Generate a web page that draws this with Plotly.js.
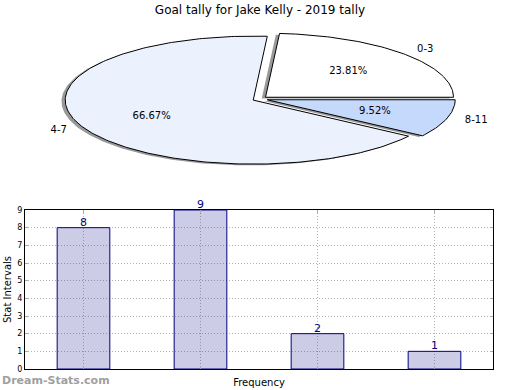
<!DOCTYPE html>
<html>
<head>
<meta charset="utf-8">
<script src="https://cdn.plot.ly/plotly-3.0.1.min.js"></script>
<style>html,body{margin:0;padding:0;background:#fff}#chart{width:520px;height:390px}</style>
</head>
<body>
<div id="chart"></div>
<script>
// ---- data ----
const pieLabels = ['0-3', '4-7', '8-11'];
const pieValues = [5, 14, 2];
const pieColors = ['#ffffff', '#ebf1fd', '#c5d9fd'];
const pieExplode = [0.04, 0.04, 0.04];

const barX = [0, 1, 2, 3];
const barValues = [8, 9, 2, 1];
const yTicks = [0, 1, 2, 3, 4, 5, 6, 7, 8, 9];

const titleText = 'Goal tally for Jake Kelly - 2019 tally';
const xTitle = 'Frequency';
const yTitle = 'Stat Intervals';
const watermark = 'Dream-Stats.com';

// ---- pie geometry (unit radius; axes scaling makes it elliptical) ----
const FONT = 'DejaVu Sans, sans-serif';
const total = pieValues.reduce((a, b) => a + b, 0);
const traces = [];
const slices = [];
let start = 0;
pieValues.forEach((v, i) => {
  const sweep = v / total * 360;
  const mid = (start + sweep / 2) * Math.PI / 180;
  const ox = pieExplode[i] * Math.cos(mid), oy = pieExplode[i] * Math.sin(mid);
  const xs = [ox], ys = [oy];
  const n = Math.max(4, Math.ceil(sweep));
  for (let k = 0; k <= n; k++) {
    const a = (start + sweep * k / n) * Math.PI / 180;
    xs.push(ox + Math.cos(a)); ys.push(oy + Math.sin(a));
  }
  xs.push(ox); ys.push(oy);
  slices.push({xs, ys, mid, ox, oy, i, v});
  start += sweep;
});
// shadows
slices.forEach(s => {
  traces.push({type: 'scatter', mode: 'lines', xaxis: 'x2', yaxis: 'y2',
    x: s.xs.map(x => x - 0.02), y: s.ys.map(y => y - 0.02), fill: 'toself',
    fillcolor: 'rgba(0,0,0,0.4)', line: {width: 0}, hoverinfo: 'skip', showlegend: false});
});
// slices
slices.forEach(s => {
  traces.push({type: 'scatter', mode: 'lines', xaxis: 'x2', yaxis: 'y2',
    x: s.xs, y: s.ys, fill: 'toself', fillcolor: pieColors[s.i],
    line: {color: '#000', width: 1}, hoverinfo: 'skip', showlegend: false});
});
// labels
traces.push({type: 'scatter', mode: 'text', xaxis: 'x2', yaxis: 'y2',
  x: slices.map(s => s.ox + 1.1 * Math.cos(s.mid)),
  y: slices.map(s => s.oy + 1.1 * Math.sin(s.mid)),
  text: pieLabels,
  textposition: slices.map(s => Math.cos(s.mid) >= 0 ? 'middle right' : 'middle left'),
  textfont: {family: FONT, size: 10, color: '#000'}, hoverinfo: 'skip', showlegend: false});
traces.push({type: 'scatter', mode: 'text', xaxis: 'x2', yaxis: 'y2',
  x: slices.map(s => s.ox + 0.6 * Math.cos(s.mid)),
  y: slices.map(s => s.oy + 0.6 * Math.sin(s.mid)),
  text: pieValues.map(v => (v / total * 100).toFixed(2) + '%'),
  textposition: 'middle center',
  textfont: {family: FONT, size: 10, color: '#000'}, hoverinfo: 'skip', showlegend: false});

// bars
traces.push({type: 'bar', x: barX, y: barValues, width: 0.45,
  marker: {color: 'rgba(0,0,128,0.2)', line: {color: '#000080', width: 1}},
  hoverinfo: 'skip', showlegend: false});

const barLabels = barX.map((x, i) => ({
  text: String(barValues[i]), x: x, y: barValues[i], xref: 'x', yref: 'y',
  xanchor: 'center', yanchor: 'bottom', yshift: -3, showarrow: false,
  font: {family: FONT, size: 11, color: '#000080'}
}));

const layout = {
  width: 520, height: 390,
  margin: {l: 0, r: 0, t: 0, b: 0},
  paper_bgcolor: '#fff', plot_bgcolor: '#fff',
  font: {family: FONT, color: '#000'},
  title: {text: titleText, x: 0.5, xanchor: 'center', y: 1 - 10 / 390, yanchor: 'middle',
    font: {family: FONT, size: 12, color: '#000'}},
  xaxis2: {domain: [0, 1], range: [-260 / 188, 260 / 188], visible: false, fixedrange: true},
  yaxis2: {domain: [200 / 390, 1], range: [-(190 - 99) / 64, 99 / 64], visible: false, fixedrange: true},
  xaxis: {domain: [25 / 520, 493 / 520], range: [-0.5, 3.5], tickvals: barX, showticklabels: false,
    showgrid: true, gridcolor: '#b4b4b4', griddash: '1px,2px', gridwidth: 1,
    ticks: 'inside', ticklen: 3, tickcolor: '#aaaaaa',
    showline: true, linecolor: '#000', linewidth: 1, mirror: 'ticks', zeroline: false,
    title: {text: xTitle, font: {family: FONT, size: 10, color: '#000'}, standoff: 9}},
  yaxis: {domain: [21 / 390, 180 / 390], range: [0, 9], tickvals: yTicks,
    showgrid: true, gridcolor: '#b4b4b4', griddash: '1px,2px', gridwidth: 1,
    ticks: 'inside', ticklen: 3, tickcolor: '#aaaaaa',
    tickfont: {family: FONT, size: 8, color: '#000'},
    showline: true, linecolor: '#000', linewidth: 1, mirror: 'ticks', zeroline: false,
    title: {text: yTitle, font: {family: FONT, size: 10, color: '#000'}, standoff: 3}},
  annotations: barLabels.concat([{text: '<b>' + watermark + '</b>', xref: 'paper', yref: 'paper', x: 0, y: 10 / 390,
    xanchor: 'left', yanchor: 'middle', showarrow: false,
    font: {family: FONT, size: 11, color: '#a0a0a0'}}])
};

Plotly.newPlot('chart', traces, layout, {staticPlot: true, displayModeBar: false});
</script>
</body>
</html>
